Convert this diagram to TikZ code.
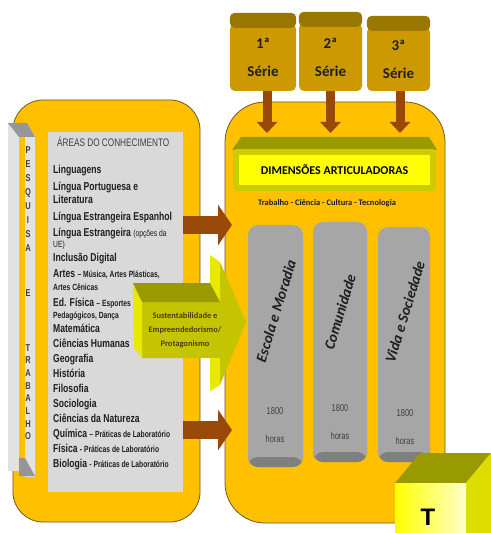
\documentclass[tikz,border=0pt]{standalone}
\usepackage{fontspec}
\setmainfont{Carlito}
\newfontfamily\narrow[FakeStretch=0.75]{Liberation Sans}
\usepackage{tikz}
\usetikzlibrary{arrows.meta}

\definecolor{panelorange}{RGB}{255,192,0}
\definecolor{paneledge}{RGB}{110,90,40}
\definecolor{areagrey}{RGB}{217,217,217}
\definecolor{seriefill}{RGB}{204,153,0}
\definecolor{seriecap}{RGB}{153,119,0}
\definecolor{arrowbrown}{RGB}{152,72,7}
\definecolor{dimyellow}{RGB}{255,255,0}
\definecolor{dimframe}{RGB}{204,204,0}
\definecolor{olivetop}{RGB}{153,153,0}
\definecolor{colgrey}{RGB}{166,166,166}
\definecolor{colbase}{RGB}{127,127,127}
\definecolor{sustfront}{RGB}{196,196,0}
\definecolor{sustside}{RGB}{232,232,0}
\definecolor{cubeside}{RGB}{221,221,0}
\definecolor{cubepale}{RGB}{255,255,204}
\definecolor{pesqlight}{RGB}{226,226,226}
\definecolor{pesqdark}{RGB}{150,150,150}
\definecolor{textgrey}{RGB}{64,64,64}
\definecolor{textdark}{RGB}{30,30,30}

\newcommand\miudo[1]{{\fontsize{9}{9}\selectfont #1}}

\begin{document}
\begin{tikzpicture}[x=1bp,y=-1bp,line join=bevel,
  panel/.style={draw=paneledge,line width=0.8bp,fill=panelorange,inner sep=0pt},
  serie/.style={fill=seriefill,rounded corners=5bp,inner sep=0pt,minimum width=64bp,
    align=center,font=\bfseries\fontsize{15}{28}\selectfont,text=textdark},
  downarr/.style={draw=arrowbrown,line width=9bp,-{Triangle[width=20bp,length=11bp]}},
  rightarr/.style={draw=arrowbrown,line width=18bp,-{Triangle[width=40bp,length=14bp]}},
  coluna/.style={fill=colgrey,rounded corners=10bp,inner sep=0pt,
    path picture={\fill[colbase] ([yshift=10bp]path picture bounding box.south west)
      rectangle (path picture bounding box.south east);}},
  colname/.style={rotate=73,inner sep=0pt,font=\bfseries\itshape\fontsize{15}{15}\selectfont,text=textdark},
  horas/.style={font=\narrow\fontsize{10}{10}\selectfont,text=textgrey},
  areatxt/.style={anchor=base west,inner sep=0pt,text=textdark,
    font=\narrow\bfseries\fontsize{11.5}{12}\selectfont},
  pesqtxt/.style={align=center,inner sep=0pt,text=textgrey,
    font=\narrow\bfseries\fontsize{10}{14}\selectfont},
]
\useasboundingbox (0,0) rectangle (491,533);
%%
\node (leftpanel) at (106.5,311) [panel,rounded corners=30bp,minimum width=187bp,minimum height=422bp] {};
\node (rightpanel) at (335,312.5) [panel,rounded corners=40bp,minimum width=220bp,minimum height=421bp] {};
%% pesquisa e trabalho
\fill[pesqlight] (8,123) rectangle (19,471);
\fill[panelorange] (19,130) rectangle (25,470);
\fill[pesqlight] (25,135) rectangle (35,477);
\fill[pesqdark] (8,123) -- (27,123) -- (35,137) -- (19,137) -- cycle;
\fill[pesqdark] (19,458) -- (25,458) -- (35,476) -- (19,476) -- cycle;
\node (pesq) at (28,199) [pesqtxt] {P\\E\\S\\Q\\U\\I\\S\\A};
\node (pesqe) at (28,293) [pesqtxt] {E};
\node (trab) at (28,392) [pesqtxt,font=\narrow\bfseries\fontsize{10}{12.7}\selectfont] {T\\R\\A\\B\\A\\L\\H\\O};
%% areas do conhecimento
\node (areas) at (115.5,312) [fill=areagrey,inner sep=0pt,minimum width=135bp,minimum height=360bp] {};
\node (ar0) at (57,147) [areatxt,font=\narrow\fontsize{11}{12}\selectfont,text=textgrey] {ÁREAS DO CONHECIMENTO};
\node (ar1) at (53,174) [areatxt] {Linguagens};
\node (ar2) at (53,191) [areatxt] {Língua Portuguesa e};
\node (ar3) at (53,204) [areatxt] {Literatura};
\node (ar4) at (53,220) [areatxt] {Língua Estrangeira Espanhol};
\node (ar5) at (53,236) [areatxt] {Língua Estrangeira \miudo{\mdseries(opções da}};
\node (ar6) at (53,247) [areatxt] {\miudo{\mdseries UE)}};
\node (ar7) at (53,261) [areatxt] {Inclusão Digital};
\node (ar8) at (53,277) [areatxt] {Artes \miudo{– Música, Artes Plásticas,}};
\node (ar9) at (53,290) [areatxt] {\miudo{Artes Cênicas}};
\node (ar10) at (53,306) [areatxt] {Ed. Física \miudo{– Esportes}};
\node (ar11) at (53,318) [areatxt] {\miudo{Pedagógicos, Dança}};
\node (ar12) at (53,332) [areatxt] {Matemática};
\node (ar13) at (53,347) [areatxt] {Ciências Humanas};
\node (ar14) at (53,362) [areatxt] {Geografia};
\node (ar15) at (53,377) [areatxt] {História};
\node (ar16) at (53,392) [areatxt] {Filosofia};
\node (ar17) at (53,407) [areatxt] {Sociologia};
\node (ar18) at (53,422) [areatxt] {Ciências da Natureza};
\node (ar19) at (53,437) [areatxt] {Química \miudo{– Práticas de Laboratório}};
\node (ar20) at (53,452) [areatxt] {Física \miudo{- Práticas de Laboratório}};
\node (ar21) at (53,467) [areatxt] {Biologia \miudo{- Práticas de Laboratório}};
%% series
\node (s1) at (263,57.5) [serie,minimum width=66bp,minimum height=67bp] {1ª\\Série};
\node (s2) at (330.5,57) [serie,minimum width=63bp,minimum height=68bp] {2ª\\Série};
\node (s3) at (398.5,59) [serie,minimum width=63bp,minimum height=64bp] {3ª\\Série};
\fill[seriecap,rounded corners=5bp] ([yshift=11bp]s1.north west) rectangle ([yshift=-4bp]s1.north east);
\fill[seriecap,rounded corners=5bp] ([yshift=11bp]s2.north west) rectangle ([yshift=-4bp]s2.north east);
\fill[seriecap,rounded corners=5bp] ([yshift=11bp]s3.north west) rectangle ([yshift=-4bp]s3.north east);
\coordinate (dimtop) at (335,133);
\draw [downarr] ([xshift=4bp]s1.south) -- ([xshift=4bp]s1.south |- dimtop);
\draw [downarr] (s2.south) -- (s2.south |- dimtop);
\draw [downarr] ([xshift=1.5bp]s3.south) -- ([xshift=1.5bp]s3.south |- dimtop);
%% dimensoes
\fill[olivetop] (232,150) -- (241,137) -- (429,137) -- (437,150) -- cycle;
\node (dim) at (334.5,170) [fill=dimyellow,draw=dimframe,line width=6bp,inner sep=0pt,
  minimum width=197bp,minimum height=36bp,font=\bfseries\fontsize{12}{12}\selectfont] {DIMENSÕES ARTICULADORAS};
\node (eixos) at (327,203) [font=\bfseries\fontsize{8.5}{8.5}\selectfont,text=textdark] {Trabalho - Ciência - Cultura - Tecnologia};
%% colunas
\node (c1) at (275.5,346) [coluna,minimum width=55bp,minimum height=242bp] {};
\node (c2) at (340,342) [coluna,minimum width=54bp,minimum height=240bp] {};
\node (c3) at (404,344.5) [coluna,minimum width=52bp,minimum height=235bp] {};
\node (escola) at (276,311) [colname] {Escola e Moradia};
\node (comun) at (340,312) [colname] {Comunidade};
\node (vida) at (405,312) [colname] {Vida e Sociedade};
\node (h1) at (275,411) [horas] {1800};
\node (h2) at (340,408) [horas] {1800};
\node (h3) at (405,413) [horas] {1800};
\node (hh1) at (275,439) [horas] {horas};
\node (hh2) at (340,436) [horas] {horas};
\node (hh3) at (405,441) [horas] {horas};
%% setas
\coordinate (a1) at (232,225);
\coordinate (a2) at (232,430);
\draw [rightarr] (areas.east |- a1) -- (a1);
\draw [rightarr] (areas.east |- a2) -- (a2);
%% sustentabilidade
\fill[sustfront] (142,302) -- (220,302) -- (220,262) -- (246,322) -- (220,385) -- (220,358) -- (142,358) -- cycle;
\fill[sustside] (210,255) -- (220,262) -- (220,302) -- (210,290) -- cycle;
\fill[sustside] (210,358) -- (220,358) -- (220,385) -- (210,391) -- cycle;
\fill[sustside] (133,283) -- (142,302) -- (142,358) -- (134,348) -- cycle;
\fill[olivetop] (133,283) -- (210,283) -- (220,302) -- (142,302) -- cycle;
\node (sust) at (185,330) [align=center,font=\bfseries\fontsize{8.5}{14}\selectfont,text={rgb,255:red,80;green,60;blue,0}] {Sustentabilidade e\\Empreendedorismo/\\Protagonismo};
%% cubo T
\fill[olivetop] (395,483) -- (420,453) -- (491,453) -- (466,483) -- cycle;
\fill[cubeside] (466,483) -- (491,453) -- (491,533) -- (466,533) -- cycle;
\node (tcube) at (430.5,508) [left color=dimyellow,right color=cubepale,inner sep=0pt,minimum width=71bp,minimum height=50bp] {};
\node (tlabel) at (428,517) [font=\fontspec{Liberation Sans}\bfseries\fontsize{24}{24}\selectfont] {T};
%
\end{tikzpicture}
\end{document}
